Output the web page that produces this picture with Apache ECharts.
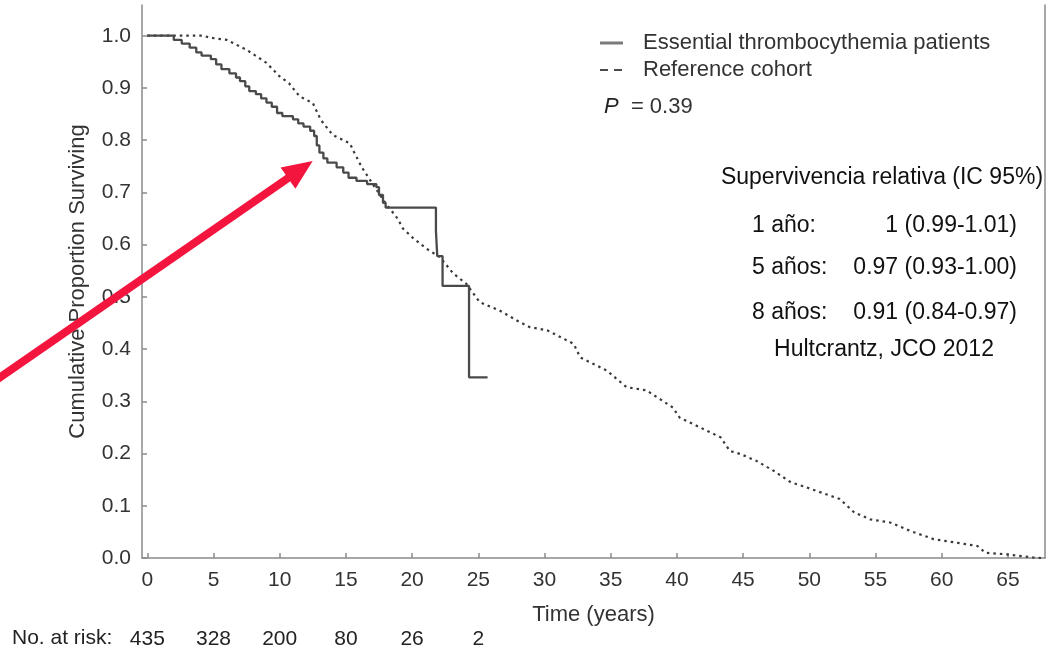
<!DOCTYPE html>
<html>
<head>
<meta charset="utf-8">
<script src="https://cdn.jsdelivr.net/npm/echarts@6/dist/echarts.min.js"></script>
<style>
html,body{margin:0;padding:0;background:#fff;}
#chart{width:1058px;height:653px;}
</style>
</head>
<body>
<div id="chart"></div>
<script>
// ---- data ----
var etTimes = [0, 2.0, 2.6, 3.2, 3.7, 4.1, 4.8, 5.2, 5.6, 6.2, 6.7, 7.0, 7.4, 7.7, 8.2, 8.6, 9.0, 9.4, 9.8, 10.2, 11.0, 11.4, 11.8, 12.3, 12.6, 12.8, 13.0, 13.3, 13.6, 14.3, 14.8, 15.2, 15.8, 16.6, 17.3, 17.5, 17.8, 18.0, 21.8, 21.9, 22.3, 24.3, 25.7];
var etSurv = [1.0, 0.992, 0.985, 0.977, 0.968, 0.962, 0.955, 0.945, 0.936, 0.928, 0.920, 0.913, 0.903, 0.894, 0.888, 0.880, 0.872, 0.864, 0.852, 0.846, 0.840, 0.832, 0.826, 0.818, 0.808, 0.790, 0.776, 0.765, 0.757, 0.748, 0.738, 0.728, 0.722, 0.716, 0.710, 0.695, 0.680, 0.671, 0.626, 0.578, 0.521, 0.346, 0.346];
var refTimes = [0, 4.2, 4.8, 6.0, 7.5, 9.0, 10.0, 10.7, 11.5, 12.5, 13.1, 14.0, 15.3, 15.6, 16.2, 17.0, 18.0, 18.9, 19.3, 20.1, 21.1, 22.1, 23.1, 24.1, 25.1, 26.6, 28.1, 28.9, 30.2, 32.2, 32.7, 34.7, 36.2, 37.7, 39.7, 40.2, 43.3, 44.0, 44.8, 46.0, 47.3, 48.6, 49.8, 52.3, 53.4, 54.6, 56.1, 57.6, 59.4, 61.2, 62.7, 63.3, 64.9, 66.9, 67.5];
var refSurv = [1.0, 1.0, 0.996, 0.992, 0.973, 0.948, 0.922, 0.909, 0.884, 0.871, 0.839, 0.810, 0.794, 0.778, 0.748, 0.717, 0.679, 0.650, 0.631, 0.612, 0.592, 0.576, 0.545, 0.525, 0.490, 0.474, 0.452, 0.442, 0.436, 0.410, 0.384, 0.359, 0.327, 0.321, 0.288, 0.269, 0.231, 0.205, 0.199, 0.186, 0.167, 0.145, 0.135, 0.113, 0.087, 0.074, 0.068, 0.052, 0.036, 0.029, 0.023, 0.010, 0.007, 0.001, 0.0];
var xTicks = [0, 5, 10, 15, 20, 25, 30, 35, 40, 45, 50, 55, 60, 65];
var yTicks = [0, 0.1, 0.2, 0.3, 0.4, 0.5, 0.6, 0.7, 0.8, 0.9, 1.0];
var riskTimes = [0, 5, 10, 15, 20, 25];
var riskCounts = ['435', '328', '200', '80', '26', '2'];
var seriesNames = ['Essential thrombocythemia patients', 'Reference cohort'];
var pValueText = '0.39';
var tableTitle = 'Supervivencia relativa (IC 95%)';
var tableRows = [['1 año:', '1 (0.99-1.01)'], ['5 años:', '0.97 (0.93-1.00)'], ['8 años:', '0.91 (0.84-0.97)']];
var sourceText = 'Hultcrantz, JCO 2012';
// annotation arrow in data coordinates (tail, tip)
var arrowTail = [-11.16, 0.345];
var arrowTip = [12.49, 0.760];

function zip(a, b) { return a.map(function (v, i) { return [v, b[i]]; }); }

var FONT = 'Liberation Sans, Arial, sans-serif';
var AX = '#8a8a8a';
var TXT = '#333';
var ET_COLOR = '#4a4a4a';
var REF_COLOR = '#3a3a3a';
var xMin = -0.4, xMax = 67.8, yMin = 0, yMax = 1.0588;

var chart = echarts.init(document.getElementById('chart'), null, { renderer: 'canvas' });

var option = {
  animation: false,
  backgroundColor: '#fff',
  textStyle: { fontFamily: FONT },
  grid: { left: 142, right: 13, top: 5, bottom: 95, containLabel: false },
  xAxis: [{
    type: 'value', min: xMin, max: xMax, position: 'bottom',
    axisLine: { show: true, onZero: false, lineStyle: { color: AX, width: 1.5 } },
    axisTick: { show: true, inside: true, length: 5, customValues: xTicks, lineStyle: { color: AX, width: 1.5 } },
    axisLabel: { customValues: xTicks, fontSize: 21, color: TXT, margin: 12, fontFamily: FONT },
    splitLine: { show: false },
    name: 'Time (years)', nameLocation: 'middle', nameGap: 46,
    nameTextStyle: { fontSize: 22, color: TXT, fontFamily: FONT }
  }, {
    type: 'value', min: xMin, max: xMax, position: 'bottom', offset: 63,
    axisLine: { show: false }, axisTick: { show: false }, splitLine: { show: false },
    axisLabel: {
      customValues: riskTimes, fontSize: 21, color: '#222', margin: 8, fontFamily: FONT,
      formatter: function (v) { var i = riskTimes.indexOf(v); return i >= 0 ? riskCounts[i] : ''; }
    }
  }],
  yAxis: [{
    type: 'value', min: yMin, max: yMax,
    axisLine: { show: true, onZero: false, lineStyle: { color: AX, width: 1.5 } },
    axisTick: { show: true, inside: true, length: 5, customValues: yTicks, lineStyle: { color: AX, width: 1.5 } },
    axisLabel: { customValues: yTicks, fontSize: 21, color: TXT, margin: 11, fontFamily: FONT,
      formatter: function (v) { return v.toFixed(1); } },
    splitLine: { show: false },
    name: 'Cumulative Proportion Surviving', nameLocation: 'middle', nameGap: 53, nameRotate: 90,
    nameTextStyle: { fontSize: 22, color: TXT, fontFamily: FONT }
  }, {
    type: 'value', min: yMin, max: yMax, position: 'right',
    axisLine: { show: true, onZero: false, lineStyle: { color: AX, width: 1.5 } },
    axisTick: { show: false }, axisLabel: { show: false }, splitLine: { show: false }
  }],
  series: [{
    name: seriesNames[0], type: 'line', step: 'end', showSymbol: false, symbol: 'none',
    data: zip(etTimes, etSurv), z: 3,
    lineStyle: { color: ET_COLOR, width: 2.3 }
  }, {
    name: seriesNames[1], type: 'line', showSymbol: false, symbol: 'none',
    data: zip(refTimes, refSurv), z: 2,
    lineStyle: { color: REF_COLOR, width: 2.2, type: [2.5, 4] }
  }]
};
chart.setOption(option);

// annotations placed via axis scales
var tail = chart.convertToPixel({ gridIndex: 0 }, arrowTail);
var tip = chart.convertToPixel({ gridIndex: 0 }, arrowTip);
var ang = Math.atan2(tip[1] - tail[1], tip[0] - tail[0]);
var headLen = 30, headW = 13;
var bx = tip[0] - headLen * Math.cos(ang), by = tip[1] - headLen * Math.sin(ang);
var px = -Math.sin(ang), py = Math.cos(ang);
var RED = '#f4153f';

var graphics = [
  { type: 'line', shape: { x1: tail[0] - 20 * Math.cos(ang), y1: tail[1] - 20 * Math.sin(ang), x2: bx + 2 * Math.cos(ang), y2: by + 2 * Math.sin(ang) },
    style: { stroke: RED, lineWidth: 8 }, z: 100 },
  { type: 'polygon', shape: { points: [[tip[0], tip[1]], [bx + px * headW, by + py * headW], [bx - px * headW, by - py * headW]] },
    style: { fill: RED }, z: 100 },
  // legend
  { type: 'line', shape: { x1: 600, y1: 43, x2: 623, y2: 43 }, style: { stroke: '#7a7a7a', lineWidth: 3 }, z: 50 },
  { type: 'text', x: 643, y: 43, style: { text: seriesNames[0], fontSize: 22, fontFamily: FONT, fill: TXT, align: 'left', verticalAlign: 'middle' }, z: 50 },
  { type: 'line', shape: { x1: 600, y1: 70, x2: 623, y2: 70 }, style: { stroke: '#111', lineWidth: 1.5, lineDash: [8, 6] }, z: 50 },
  { type: 'text', x: 643, y: 70, style: { text: seriesNames[1], fontSize: 22, fontFamily: FONT, fill: TXT, align: 'left', verticalAlign: 'middle' }, z: 50 },
  { type: 'text', x: 604, y: 107, style: { rich: { i: { fontStyle: 'italic', fontSize: 22, fontFamily: FONT, fill: '#222' }, n: { fontSize: 22, fontFamily: FONT, fill: TXT } },
      text: '{i|P}{n|  = ' + pValueText + '}', verticalAlign: 'middle' }, z: 50 },
  { type: 'text', x: 882, y: 178, style: { text: tableTitle, fontSize: 23, fontFamily: FONT, fill: '#111', align: 'center', verticalAlign: 'middle' }, z: 50 },
  { type: 'text', x: 884, y: 350, style: { text: sourceText, fontSize: 23, fontFamily: FONT, fill: '#111', align: 'center', verticalAlign: 'middle' }, z: 50 }
];
var rowY = [226, 268, 313];
tableRows.forEach(function (r, i) {
  graphics.push({ type: 'text', x: 752, y: rowY[i], style: { text: r[0], fontSize: 23, fontFamily: FONT, fill: '#111', align: 'left', verticalAlign: 'middle' }, z: 50 });
  graphics.push({ type: 'text', x: 1017, y: rowY[i], style: { text: r[1], fontSize: 23, fontFamily: FONT, fill: '#111', align: 'right', verticalAlign: 'middle' }, z: 50 });
});
graphics.push({ type: 'text', x: 12, y: 638, style: { text: 'No. at risk:', fontSize: 21, fontFamily: FONT, fill: '#222', align: 'left', verticalAlign: 'middle' }, z: 50 });
chart.setOption({ graphic: graphics });
</script>
</body>
</html>
